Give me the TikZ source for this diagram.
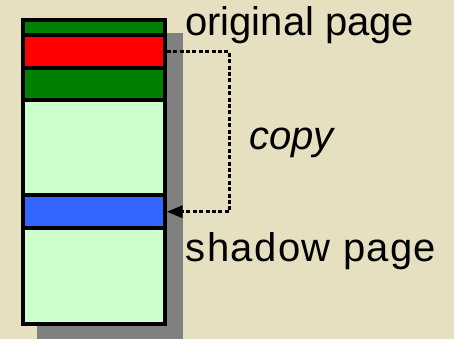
\documentclass[tikz,border=0pt]{standalone}
\usepackage{fontspec}
\setmainfont{Liberation Sans}
\usetikzlibrary{arrows.meta}

\definecolor{paper}{HTML}{E6DFC0}
\definecolor{darkgreen}{HTML}{008000}
\definecolor{mint}{HTML}{CCFFCC}
\definecolor{pageblue}{HTML}{3366FF}
\definecolor{shadowgray}{HTML}{808080}

\tikzset{
  strip/.style={draw=black, line width=4pt, inner sep=0pt, outer sep=auto,
    minimum width=141.7pt, fill=#1},
  caption/.style={anchor=base west, inner sep=0pt, font=\fontsize{40}{48}\selectfont},
  copyline/.style={line width=3.3pt, dash pattern=on 4pt off 2.4pt},
}

\begin{document}
\begin{tikzpicture}[x=1pt, y=1pt]
  \useasboundingbox (0,0) rectangle (454,339);
  \fill[paper] (0,0) rectangle (454,339);

  % drop shadow behind the page
  \fill[shadowgray] (37,0) rectangle (183,306);

  % the page, drawn strip by strip from top to bottom
  \node[strip=darkgreen, minimum height=15.2pt] (hdr)    at (93.85,311.1)  {};
  \node[strip=red,       minimum height=32.5pt] (orig)   at (93.85,287.25) {};
  \node[strip=darkgreen, minimum height=32pt]   (used)   at (93.85,255)    {};
  \node[strip=mint,      minimum height=95.5pt] (free1)  at (93.85,191.25) {};
  \node[strip=pageblue,  minimum height=32.5pt] (shadow) at (93.85,127.25) {};
  \node[strip=mint,      minimum height=95.7pt] (free2)  at (93.85,63.15)  {};

  % labels
  \node[caption] (lorig) at (185,303) {original page};
  \node[caption] (lcopy) at (249,189) {\itshape copy};
  \node[caption] (lshad) at (185.5,77.5) {\addfontfeature{LetterSpace=3.5}shadow page};

  % copy connector
  \draw[copyline, -{Triangle[length=16pt, width=12pt]}]
    (orig.east) -- ++(63,0) |- (shadow.east);
\end{tikzpicture}
\end{document}
